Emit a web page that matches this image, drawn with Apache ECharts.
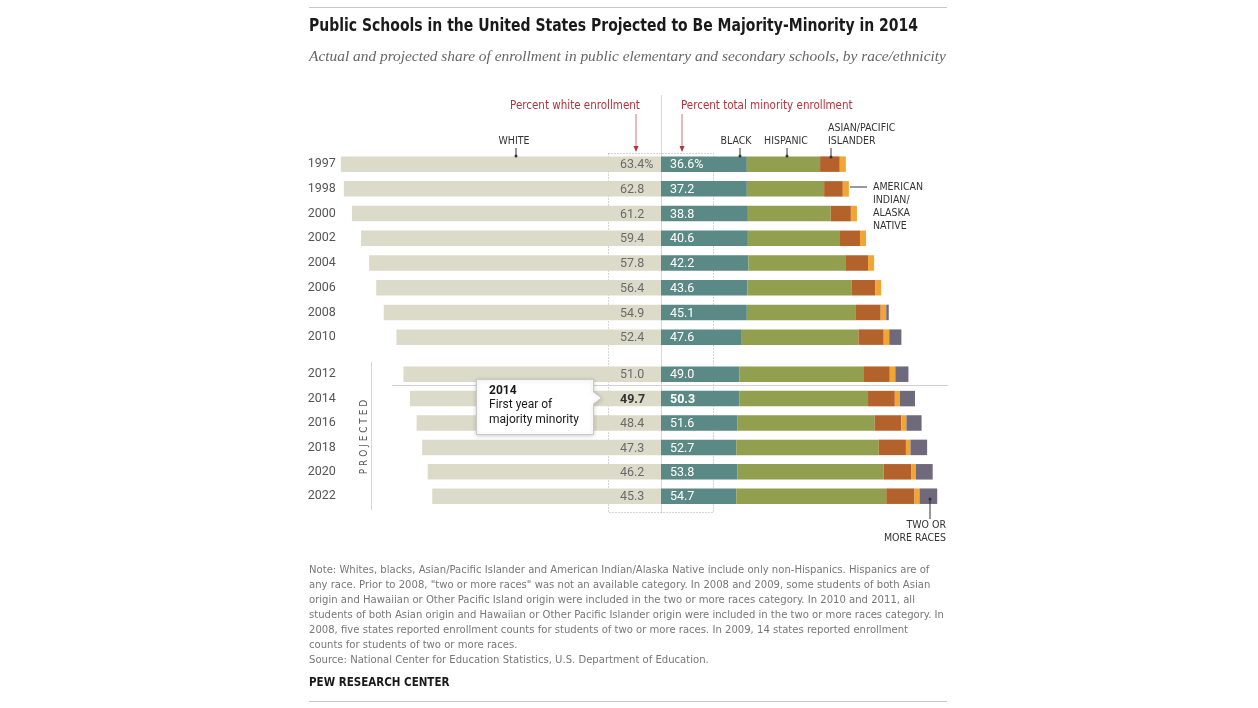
<!DOCTYPE html>
<html>
<head>
<meta charset="utf-8">
<script src="https://cdn.jsdelivr.net/npm/echarts@6/dist/echarts.min.js"></script>
<style>
html,body{margin:0;padding:0;background:#fff;}
#chart{width:1258px;height:708px;}
</style>
</head>
<body>
<div id="chart"></div>
<script>
// ---- data ----
var years = ['1997','1998','2000','2002','2004','2006','2008','2010','2012','2014','2016','2018','2020','2022'];
var whiteShare = [63.4,62.8,61.2,59.4,57.8,56.4,54.9,52.4,51.0,49.7,48.4,47.3,46.2,45.3];
var minorityShare = [36.6,37.2,38.8,40.6,42.2,43.6,45.1,47.6,49.0,50.3,51.6,52.7,53.8,54.7];
var blackShare = [17.0,17.0,17.2,17.2,17.3,17.1,17.0,16.0,15.5,15.5,15.1,14.9,15.1,14.9];
var hispanicShare = [14.5,15.3,16.4,18.1,19.2,20.6,21.6,23.1,24.7,25.5,27.2,28.2,29.0,29.7];
var asianShare = [3.9,3.7,4.0,4.1,4.5,4.7,4.9,5.0,5.1,5.3,5.3,5.4,5.5,5.6];
var aianShare = [1.2,1.2,1.2,1.2,1.2,1.2,1.1,1.1,1.1,1.0,1.0,0.9,0.9,1.0];
var twoShare = [null,null,null,null,null,null,0.5,2.4,2.6,3.0,3.0,3.3,3.3,3.5];
var actualCount = 8; // first 8 years are actual, rest projected
var highlightYear = '2014';

// ---- styling ----
var NARROW = '"Liberation Sans Narrow","DejaVu Sans Condensed","Roboto",sans-serif';
var LABELF = 'Roboto, "Open Sans", sans-serif';
var colors = {
  white: '#dcdbc9', black: '#5b8985', hispanic: '#919f4e',
  asian: '#b3622b', aian: '#f0a535', two: '#6f697c'
};

var chart = echarts.init(document.getElementById('chart'), null, {renderer: 'canvas'});

var grids = [
  {left: 337.8, width: 606, top: 151.8, height: 197.7},
  {left: 337.8, width: 606, top: 362, height: 146.4}
];
var ranges = [[0, actualCount], [actualCount, years.length]];

var xAxes = [], yAxes = [], series = [];
ranges.forEach(function (r, gi) {
  var cats = years.slice(r[0], r[1]);
  xAxes.push({gridIndex: gi, type: 'value', min: -64, max: 56, show: false});
  yAxes.push({
    gridIndex: gi, type: 'category', data: cats, inverse: true,
    axisLine: {show: false}, axisTick: {show: false}, splitLine: {show: false},
    axisLabel: {color: '#555', fontSize: 12.5, fontFamily: LABELF, margin: 2, padding: [3, 0, 0, 0]}
  });
  function isHi(i) { return years[r[0] + i] === highlightYear; }
  var common = {type: 'bar', xAxisIndex: gi, yAxisIndex: gi, stack: 's' + gi, barWidth: 15.5, silent: true, animation: false};
  series.push(Object.assign({}, common, {
    name: 'White',
    itemStyle: {color: colors.white},
    data: whiteShare.slice(r[0], r[1]).map(function (v) { return -v; }),
    label: {
      show: true, position: 'insideRight', distance: 41, align: 'left',
      fontFamily: LABELF, fontSize: 12.5, color: '#6a6a6a', padding: [2, 0, 0, 0],
      formatter: function (p) {
        var idx = r[0] + p.dataIndex;
        var t = whiteShare[idx].toFixed(1) + (idx === 0 ? '%' : '');
        return isHi(p.dataIndex) ? '{b|' + t + '}' : t;
      },
      rich: {b: {fontWeight: 'bold', color: '#333', fontFamily: LABELF, fontSize: 12.5}}
    }
  }));
  series.push(Object.assign({}, common, {
    name: 'Black',
    itemStyle: {color: colors.black},
    data: blackShare.slice(r[0], r[1]),
    label: {
      show: true, position: 'insideLeft', distance: 9,
      fontFamily: LABELF, fontSize: 12.5, color: '#fff', padding: [2, 0, 0, 0],
      formatter: function (p) {
        var idx = r[0] + p.dataIndex;
        var t = minorityShare[idx].toFixed(1) + (idx === 0 ? '%' : '');
        return isHi(p.dataIndex) ? '{b|' + t + '}' : t;
      },
      rich: {b: {fontWeight: 'bold', color: '#fff', fontFamily: LABELF, fontSize: 12.5}}
    }
  }));
  series.push(Object.assign({}, common, {name: 'Hispanic', itemStyle: {color: colors.hispanic}, data: hispanicShare.slice(r[0], r[1])}));
  series.push(Object.assign({}, common, {name: 'Asian/Pacific Islander', itemStyle: {color: colors.asian}, data: asianShare.slice(r[0], r[1])}));
  series.push(Object.assign({}, common, {name: 'American Indian/Alaska Native', itemStyle: {color: colors.aian}, data: aianShare.slice(r[0], r[1])}));
  series.push(Object.assign({}, common, {name: 'Two or more races', itemStyle: {color: colors.two}, data: twoShare.slice(r[0], r[1])}));
});

function txt(x, y, text, font, fill, align, extra) {
  var o = {type: 'text', x: x, y: y, z: 100, silent: true,
    style: {text: text, font: font, fill: fill, textAlign: align || 'left', textVerticalAlign: 'middle'}};
  if (extra) Object.assign(o, extra);
  return o;
}
function line(x1, y1, x2, y2, stroke, w, dash, z) {
  return {type: 'line', z: z == null ? 100 : z, silent: true, shape: {x1: x1, y1: y1, x2: x2, y2: y2},
    style: {stroke: stroke, lineWidth: w || 1, lineDash: dash || null}};
}
function tick(x, y1, y2) {
  return [line(x, y1, x, y2, '#333', 1),
    {type: 'circle', z: 100, silent: true, shape: {cx: x, cy: y2, r: 1.5}, style: {fill: '#333'}}];
}
var RED = '#b5333a';
var capF = '10.5px ' + NARROW;
var notes = [
  'Note: Whites, blacks, Asian/Pacific Islander and American Indian/Alaska Native include only non-Hispanics. Hispanics are of',
  'any race. Prior to 2008, "two or more races" was not an available category. In 2008 and 2009, some students of both Asian',
  'origin and Hawaiian or Other Pacific Island origin were included in the two or more races category. In 2010 and 2011, all',
  'students of both Asian origin and Hawaiian or Other Pacific Islander origin were included in the two or more races category. In',
  '2008, five states reported enrollment counts for students of two or more races. In 2009, 14 states reported enrollment',
  'counts for students of two or more races.',
  'Source: National Center for Education Statistics, U.S. Department of Education.'
];

var graphics = [
  line(309, 7.5, 947, 7.5, '#c8c8c8', 1),
  txt(309, 27, 'Public Schools in the United States Projected to Be Majority-Minority in 2014', 'bold 17px ' + NARROW, '#1a1a1a', 'left', {scaleX: 0.915, originX: 0, originY: 0}),
  txt(309, 57, 'Actual and projected share of enrollment in public elementary and secondary schools, by race/ethnicity', 'italic 15.4px "Liberation Serif", "DejaVu Serif", serif', '#666'),
  // guides
  line(661.5, 95, 661.5, 513, '#d6d6d6', 1, null, 0),
  {type: 'rect', z: 0, silent: true, shape: {x: 608.5, y: 153.5, width: 105, height: 359},
    style: {fill: null, stroke: '#aaa', lineWidth: 1, lineDash: [1, 2]}},
  line(392, 385.5, 948, 385.5, '#d0d0d0', 1, null, 0),
  // red headers
  txt(575, 106, 'Percent white enrollment', '11.5px ' + NARROW, RED, 'center'),
  txt(681, 106, 'Percent total minority enrollment', '11.5px ' + NARROW, RED, 'left'),
  line(636, 114, 636, 148, '#c77', 1),
  {type: 'polygon', z: 100, silent: true, shape: {points: [[633.5, 146], [638.5, 146], [636, 152]]}, style: {fill: RED}},
  line(682, 114, 682, 148, '#c77', 1),
  {type: 'polygon', z: 100, silent: true, shape: {points: [[679.5, 146], [684.5, 146], [682, 152]]}, style: {fill: RED}},
  // category captions
  txt(514, 141.5, 'WHITE', capF, '#333', 'center'),
  txt(736, 141.5, 'BLACK', capF, '#333', 'center'),
  txt(786, 141.5, 'HISPANIC', capF, '#333', 'center'),
  txt(828, 128.5, 'ASIAN/PACIFIC', capF, '#333', 'left'),
  txt(828, 141.5, 'ISLANDER', capF, '#333', 'left'),
  txt(873, 187, 'AMERICAN', capF, '#333', 'left'),
  txt(873, 200, 'INDIAN/', capF, '#333', 'left'),
  txt(873, 213, 'ALASKA', capF, '#333', 'left'),
  txt(873, 226, 'NATIVE', capF, '#333', 'left'),
  line(850, 187, 867, 187, '#333', 1),
  txt(946, 525.5, 'TWO OR', capF, '#333', 'right'),
  txt(946, 538.5, 'MORE RACES', capF, '#333', 'right'),
  // projected bracket
  line(371.5, 362, 371.5, 510, '#d6d6d6', 1, null, 0),
  txt(364, 437, 'P R O J E C T E D', '10px ' + NARROW, '#555', 'center', {rotation: Math.PI / 2}),
  // callout
  {type: 'polygon', z: 100, silent: true,
    shape: {points: [[476.5, 379.5], [593.5, 379.5], [593.5, 392], [601.5, 398], [593.5, 404], [593.5, 434.5], [476.5, 434.5]]},
    style: {fill: '#fff', stroke: '#c8c8c8', lineWidth: 1, shadowBlur: 4, shadowColor: 'rgba(0,0,0,0.18)', shadowOffsetY: 1}},
  txt(489, 391, '2014', 'bold 12px ' + LABELF, '#1a1a1a'),
  txt(489, 405, 'First year of', '12px ' + LABELF, '#1a1a1a'),
  txt(489, 419.5, 'majority minority', '12px ' + LABELF, '#1a1a1a'),
  // footer
  txt(309, 683, 'PEW RESEARCH CENTER', 'bold 11.5px ' + NARROW, '#1a1a1a'),
  line(309, 701.5, 947, 701.5, '#c8c8c8', 1)
];
graphics = graphics.concat(tick(516, 148, 156), tick(740, 148, 156), tick(787, 148, 156), tick(831, 148, 157), tick(930, 519, 499));
notes.forEach(function (n, i) {
  graphics.push(txt(309, 570.5 + i * 15, n, '11.2px ' + NARROW, '#777'));
});

chart.setOption({
  animation: false,
  backgroundColor: '#fff',
  grid: grids,
  xAxis: xAxes,
  yAxis: yAxes,
  series: series,
  graphic: graphics
});
</script>
</body>
</html>
